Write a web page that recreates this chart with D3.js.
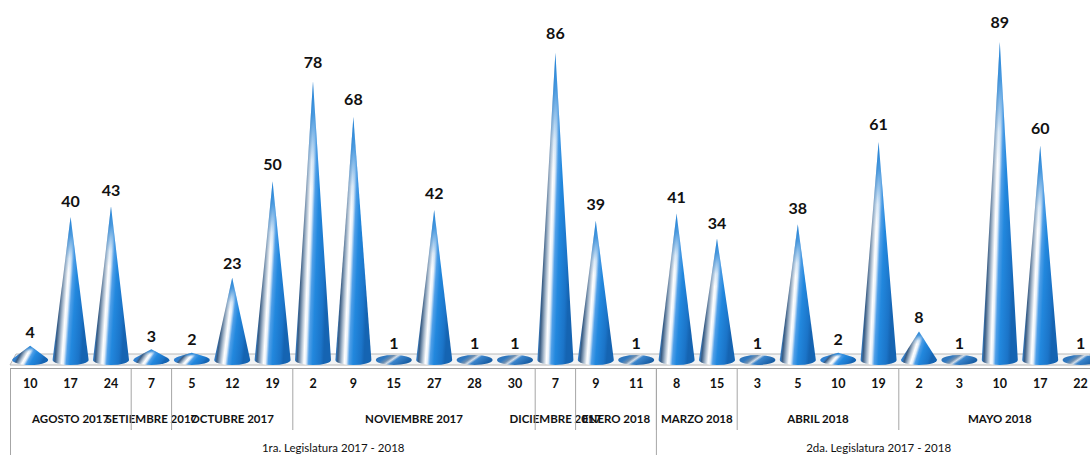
<!DOCTYPE html>
<html><head><meta charset="utf-8">
<script src="https://cdn.jsdelivr.net/npm/d3@7/dist/d3.min.js"></script>
<style>
html,body{margin:0;padding:0;background:#fff;}
svg{display:block;}
</style></head>
<body>
<svg id="chart" width="1090" height="455"></svg>
<script>
const days = ["10","17","24","7","5","12","19","2","9","15","27","28","30","7","9","11","8","15","3","5","10","19","2","3","10","17","22"];
const values = [4,40,43,3,2,23,50,78,68,1,42,1,1,86,39,1,41,34,1,38,2,61,8,1,89,60,1];
const months = ["AGOSTO 2017","SETIEMBRE 2017","OCTUBRE 2017","NOVIEMBRE 2017","DICIEMBRE 2017","ENERO 2018","MARZO 2018","ABRIL 2018","MAYO 2018"];
const monthCounts = [3,1,3,6,1,2,2,4,5];
const legislaturas = ["1ra. Legislatura 2017 - 2018","2da. Legislatura 2017 - 2018"];
const legCounts = [16,11];

const svg = d3.select("#chart");
const W = 1090, H = 455;
const x0 = 10, band = 40.4;
const n = values.length;
const x = d3.scaleBand().domain(d3.range(n)).range([x0, x0 + band*n]).padding(0);
const baseY = 360;
const y = d3.scaleLinear().domain([0, 89]).range([baseY, 42]);

const FONT = "Lato, 'Open Sans', sans-serif";

// gradients
const defs = svg.append("defs");
const g = defs.append("linearGradient").attr("id","coneGrad")
  .attr("x1",0).attr("y1",0).attr("x2",1).attr("y2",0.3);
[[0,"#2b7fd2"],[0.27,"#2f7fcf"],[0.33,"#3a5d84"],[0.42,"#a6b8cb"],[0.5,"#ffffff"],[0.55,"#e8f1fa"],[0.62,"#4f9fe8"],[0.72,"#2288de"],[0.92,"#1b74c8"],[1,"#1564b2"]]
  .forEach(([o,c]) => g.append("stop").attr("offset",o).attr("stop-color",c));
const gv = defs.append("linearGradient").attr("id","coneTop")
  .attr("x1",0).attr("y1",0).attr("x2",0).attr("y2",1);
[[0,"#1f82d8",1],[0.12,"#1f82d8",0.8],[0.28,"#2a86d8",0.15],[0.38,"#2a86d8",0]]
  .forEach(([o,c,a]) => gv.append("stop").attr("offset",o).attr("stop-color",c).attr("stop-opacity",a));
const ge = defs.append("linearGradient").attr("id","ellGrad")
  .attr("x1",0).attr("y1",0).attr("x2",1).attr("y2",0.4);
[[0,"#2f6fb0"],[0.3,"#2f78c0"],[0.45,"#6f8fb0"],[0.55,"#d3dde8"],[0.65,"#3b85cc"],[1,"#1a5fa5"]]
  .forEach(([o,c]) => ge.append("stop").attr("offset",o).attr("stop-color",c));

// floor
const xEnd = W;
svg.append("path")
  .attr("d", `M${x0+6},354 L${xEnd},354 L${xEnd},365 L${x0},365 Z`)
  .attr("fill","#f3f4f5").attr("stroke","#b8b8b8").attr("stroke-width",1);

// axis line
svg.append("line").attr("x1",x0).attr("x2",xEnd).attr("y1",368.5).attr("y2",368.5)
  .attr("stroke","#9a9a9a").attr("stroke-width",1.2);

// cones
const rx = 18, ry = 5;
const cones = svg.append("g");
values.forEach((v,i) => {
  const cx = x(i) + x.bandwidth()/2;
  const h = baseY - y(v);
  if (h <= ry + 0.5) {
    cones.append("ellipse").attr("cx",cx).attr("cy",baseY).attr("rx",rx).attr("ry",ry)
      .attr("fill","url(#ellGrad)");
  } else {
    const y0 = -ry*ry/h;
    const xt = rx*Math.sqrt(1 - (ry*ry)/(h*h));
    const d = `M${cx},${baseY-h} L${cx-xt},${baseY+y0} A${rx},${ry} 0 1 0 ${cx+xt},${baseY+y0} Z`;
    cones.append("path").attr("d",d).attr("fill","url(#coneGrad)");
    cones.append("path").attr("d",d).attr("fill","url(#coneTop)");
  }
});

// value labels
svg.append("g").selectAll("text").data(values).join("text")
  .attr("x",(d,i)=>x(i)+x.bandwidth()/2)
  .attr("y",d=>y(d)-7.5-0.07*d)
  .attr("text-anchor","middle")
  .attr("font-family",FONT).attr("font-weight","bold").attr("font-size",16)
  .attr("fill","#111")
  .text(d=>d);

// day labels
svg.append("g").selectAll("text").data(days).join("text")
  .attr("x",(d,i)=>x(i)+x.bandwidth()/2)
  .attr("y",388)
  .attr("text-anchor","middle")
  .attr("font-family",FONT).attr("font-weight","bold").attr("font-size",12.5)
  .attr("fill","#111")
  .text(d=>d);

// month labels and separators
const lineColor = "#a6a6a6";
let start = 0;
const mg = svg.append("g");
months.forEach((m,k) => {
  const end = start + monthCounts[k];
  const cx = x0 + band*(start+end)/2;
  mg.append("text").attr("x",cx).attr("y",423).attr("text-anchor","middle")
    .attr("font-family",FONT).attr("font-weight","bold").attr("font-size",11.5)
    .attr("fill","#111").text(m);
  if (start > 0) {
    mg.append("line").attr("x1",x(start)).attr("x2",x(start)).attr("y1",368.5).attr("y2",430)
      .attr("stroke",lineColor).attr("stroke-width",1);
  }
  start = end;
});

// legislatura labels and separators
start = 0;
legislaturas.forEach((l,k) => {
  const end = start + legCounts[k];
  const cx = x0 + band*(start+end)/2;
  mg.append("text").attr("x",cx).attr("y",452).attr("text-anchor","middle")
    .attr("font-family",FONT).attr("font-size",11.5)
    .attr("fill","#111").text(l);
  if (start > 0) {
    mg.append("line").attr("x1",x(start)).attr("x2",x(start)).attr("y1",368.5).attr("y2",H)
      .attr("stroke",lineColor).attr("stroke-width",1);
  }
  start = end;
});
// left border
mg.append("line").attr("x1",x0+0.5).attr("x2",x0+0.5).attr("y1",368.5).attr("y2",H)
  .attr("stroke",lineColor).attr("stroke-width",1);
</script>
</body></html>
